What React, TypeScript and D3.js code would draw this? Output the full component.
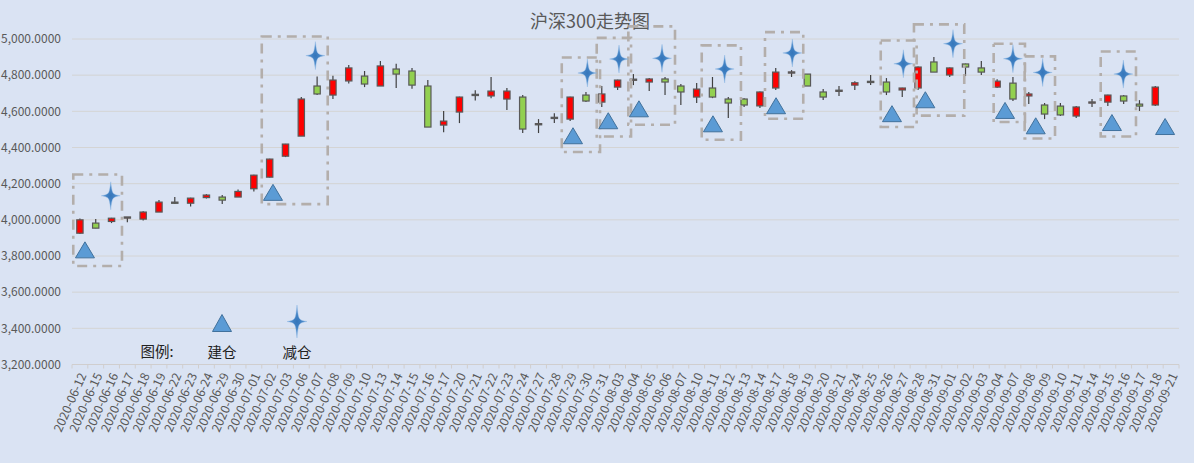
import React from "react";
import * as d3 from "d3";

const dates = [
  "2020-06-12","2020-06-15","2020-06-16","2020-06-17","2020-06-18","2020-06-19","2020-06-22","2020-06-23","2020-06-24","2020-06-29",
  "2020-06-30","2020-07-01","2020-07-02","2020-07-03","2020-07-06","2020-07-07","2020-07-08","2020-07-09","2020-07-10","2020-07-13",
  "2020-07-14","2020-07-15","2020-07-16","2020-07-17","2020-07-20","2020-07-21","2020-07-22","2020-07-23","2020-07-24","2020-07-27",
  "2020-07-28","2020-07-29","2020-07-30","2020-07-31","2020-08-03","2020-08-04","2020-08-05","2020-08-06","2020-08-07","2020-08-10",
  "2020-08-11","2020-08-12","2020-08-13","2020-08-14","2020-08-17","2020-08-18","2020-08-19","2020-08-20","2020-08-21","2020-08-24",
  "2020-08-25","2020-08-26","2020-08-27","2020-08-28","2020-08-31","2020-09-01","2020-09-02","2020-09-03","2020-09-04","2020-09-07",
  "2020-09-08","2020-09-09","2020-09-10","2020-09-11","2020-09-14","2020-09-15","2020-09-16","2020-09-17","2020-09-18","2020-09-21",
];

const openV = [
  3926,3982,3991,4013,4004,4043,4098,4092,4123,4126,
  4126,4172,4236,4352,4463,4740,4690,4768,4795,4740,
  4834,4823,4740,4524,4596,4691,4685,4668,4679,4529,
  4564,4557,4690,4651,4734,4775,4762,4779,4740,4679,
  4729,4668,4668,4630,4729,4815,4806,4707,4715,4745,
  4764,4762,4718,4729,4873,4801,4862,4840,4734,4756,
  4685,4635,4629,4574,4650,4651,4685,4640,4635,
];
const highV = [
  4007,4004,4011,4016,4048,4109,4126,4122,4142,4137,
  4168,4250,4338,4420,4679,4793,4797,4856,4823,4878,
  4863,4840,4773,4602,4681,4716,4790,4729,4690,4557,
  4590,4680,4707,4740,4775,4806,4784,4790,4751,4756,
  4790,4679,4673,4710,4840,4828,4806,4723,4740,4767,
  4801,4784,4730,4848,4900,4842,4864,4878,4778,4790,
  4707,4646,4646,4629,4668,4692,4690,4662,4740,
];
const lowV = [
  3921,3954,3982,3987,3996,4043,4087,4074,4118,4087,
  4126,4157,4234,4347,4463,4690,4668,4754,4734,4740,
  4729,4725,4513,4485,4535,4660,4673,4607,4480,4480,
  4535,4546,4651,4624,4718,4745,4712,4690,4635,4646,
  4673,4563,4624,4618,4718,4790,4740,4662,4685,4718,
  4745,4690,4679,4718,4817,4790,4795,4801,4729,4657,
  4640,4557,4574,4563,4624,4629,4640,4602,4629,
];
const closeV = [
  4000,3954,4009,4016,4043,4098,4095,4120,4137,4109,
  4157,4247,4336,4419,4668,4696,4773,4840,4751,4851,
  4806,4745,4513,4546,4679,4694,4712,4712,4502,4532,
  4567,4679,4657,4696,4773,4778,4779,4762,4707,4723,
  4679,4646,4635,4707,4817,4818,4740,4679,4717,4758,
  4766,4707,4729,4845,4817,4840,4845,4817,4767,4668,
  4696,4585,4580,4624,4652,4690,4657,4629,4734,
];

// 建仓 markers: [fractional category index, price level]
const buyIdx = [0.32, 12.21, 31.18, 33.41, 35.35, 40.03, 44.02, 51.35, 53.46, 58.5, 60.44, 65.26, 68.62];
const buyVal = [3834, 4152, 4465, 4548, 4614, 4531, 4631, 4587, 4664, 4605, 4520, 4538, 4516];
// 减仓 markers
const sellIdx = [1.95, 14.89, 32.09, 34.09, 36.81, 40.77, 45.05, 52.07, 55.21, 59.0, 60.88, 65.98];
const sellVal = [4133, 4908, 4812, 4889, 4893, 4834, 4923, 4863, 4974, 4891, 4815, 4806];

// dashed annotation boxes: index range & price range
const boxX0 = [-0.42, 11.5, 30.47, 32.68, 34.68, 39.32, 43.32, 50.64, 52.74, 57.78, 59.74, 64.55];
const boxX1 = [2.66, 15.67, 32.89, 34.85, 37.63, 41.8, 45.74, 52.91, 55.92, 59.76, 61.66, 66.78];
const boxTop = [4251, 5014, 4898, 5006, 5070, 4965, 5038, 4992, 5081, 4974, 4904, 4931];
const boxBot = [3745, 4087, 4375, 4461, 4526, 4443, 4559, 4513, 4576, 4541, 4450, 4461];

const yTicks = [3200, 3400, 3600, 3800, 4000, 4200, 4400, 4600, 4800, 5000];
const title = "沪深300走势图";
const legendTitle = "图例:";
const legendBuy = "建仓";
const legendSell = "减仓";

const W = 1194;
const H = 463;
const M = { left: 72, right: 1179, top: 39, bottom: 364.5 };
const FONT = "'Noto Sans CJK SC', 'Noto Sans', sans-serif";
const TXT = "#595959";

function starPath(cx: number, cy: number, w: number, h: number) {
  const k = 1.5;
  return `M${cx},${cy - h} C${cx + k},${cy - k} ${cx + k},${cy - k} ${cx + w},${cy} C${cx + k},${cy + k} ${cx + k},${cy + k} ${cx},${cy + h} C${cx - k},${cy + k} ${cx - k},${cy + k} ${cx - w},${cy} C${cx - k},${cy - k} ${cx - k},${cy - k} ${cx},${cy - h} Z`;
}
function triPath(cx: number, cy: number, w: number, h: number) {
  return `M${cx},${cy - h / 2} L${cx + w / 2},${cy + h / 2} L${cx - w / 2},${cy + h / 2} Z`;
}

export default function App() {
  const x = d3.scaleBand<string>().domain(dates).range([M.left, M.right]).padding(0);
  const xi = d3.scaleLinear().domain([-0.5, dates.length - 0.5]).range([M.left, M.right]);
  const y = d3.scaleLinear().domain([3200, 5000]).range([M.bottom, M.top]);
  const fmt = d3.format(",.4f");
  const bw = x.bandwidth() * 0.4;

  const candles = openV.map((o, i) => ({
    d: dates[i], o, h: highV[i], l: lowV[i], c: closeV[i],
  }));

  return (
    <svg width={W} height={H} style={{ position: "absolute", left: 0, top: 0, background: "#DAE3F3" }}>
      <defs>
        <radialGradient id="starG" cx="50%" cy="50%" r="50%">
          <stop offset="0%" stopColor="#3576BA" />
          <stop offset="60%" stopColor="#4A89C9" />
          <stop offset="100%" stopColor="#78AADC" />
        </radialGradient>
        <filter id="soft" x="-10%" y="-10%" width="120%" height="120%">
          <feGaussianBlur stdDeviation="0.5" />
        </filter>
      </defs>
      <rect x={0} y={0} width={W} height={H} fill="#DAE3F3" />
      <text x={590} y={28} textAnchor="middle" fontFamily={FONT} fontSize={18} fill={TXT}>{title}</text>

      {yTicks.map((t) => (
        <g key={t}>
          <line x1={M.left} x2={M.right} y1={y(t)} y2={y(t)} stroke="#D4D4D4" strokeWidth={1} />
          <text x={61} y={y(t)} dy="0.35em" textAnchor="end" fontFamily={FONT} fontSize={12} fill={TXT}>{fmt(t)}</text>
        </g>
      ))}
      <line x1={M.left} x2={M.right} y1={y(3200)} y2={y(3200)} stroke="#D0CECE" strokeWidth={1} />
      {dates.map((d) => (
        <line key={"tk" + d} x1={x(d)!} x2={x(d)!} y1={y(3200)} y2={y(3200) + 4} stroke="#D0CECE" />
      ))}
      <line x1={M.right} x2={M.right} y1={y(3200)} y2={y(3200) + 4} stroke="#D0CECE" />
      {dates.map((d) => {
        const cx = x(d)! + x.bandwidth() / 2 + 3;
        return (
          <text key={"lb" + d} transform={`translate(${cx},${y(3200) + 9}) rotate(-66)`} textAnchor="end" dy="0.35em"
            fontFamily={FONT} fontSize={12.3} fill={TXT}>{d}</text>
        );
      })}

      {candles.map((c) => {
        const cx = x(c.d)! + x.bandwidth() / 2;
        const up = c.c >= c.o;
        const top = y(Math.max(c.o, c.c));
        const bot = y(Math.min(c.o, c.c));
        const hgt = Math.max(bot - top, 1.2);
        return (
          <g key={"c" + c.d}>
            <line x1={cx} x2={cx} y1={y(c.h)} y2={y(c.l)} stroke="#404040" strokeWidth={1.2} />
            <rect x={cx - bw / 2} y={top} width={bw} height={hgt} fill={up ? "#FF0000" : "#92D050"} stroke="#595959" strokeWidth={1.2} />
          </g>
        );
      })}

      {boxX0.map((b, i) => (
        <rect key={"bx" + i} x={xi(b)} y={y(boxTop[i])} width={xi(boxX1[i]) - xi(b)} height={y(boxBot[i]) - y(boxTop[i])}
          fill="none" stroke="#B3AEAB" strokeWidth={2.6} strokeDasharray="10,6,3,6" filter="url(#soft)" />
      ))}

      {buyIdx.map((b, i) => (
        <path key={"bu" + i} d={triPath(xi(b), y(buyVal[i]), 19, 16)} fill="#5B9BD5" stroke="#41719C" strokeWidth={1} />
      ))}
      {sellIdx.map((s, i) => (
        <path key={"se" + i} d={starPath(xi(s), y(sellVal[i]), 9.5, 14)} fill="url(#starG)" stroke="#8AB6E2" strokeWidth={0.4} />
      ))}

      <text x={157} y={352} dy="0.35em" textAnchor="middle" fontFamily={FONT} fontSize={14.5} fill="#222">{legendTitle}</text>
      <path d={triPath(222, 323, 19, 17)} fill="#5B9BD5" stroke="#41719C" strokeWidth={1} />
      <text x={222} y={353} dy="0.35em" textAnchor="middle" fontFamily={FONT} fontSize={14.5} fill="#222">{legendBuy}</text>
      <path d={starPath(297, 321.5, 10, 16.5)} fill="url(#starG)" stroke="#8AB6E2" strokeWidth={0.4} />
      <text x={297} y={353} dy="0.35em" textAnchor="middle" fontFamily={FONT} fontSize={14.5} fill="#222">{legendSell}</text>
    </svg>
  );
}
